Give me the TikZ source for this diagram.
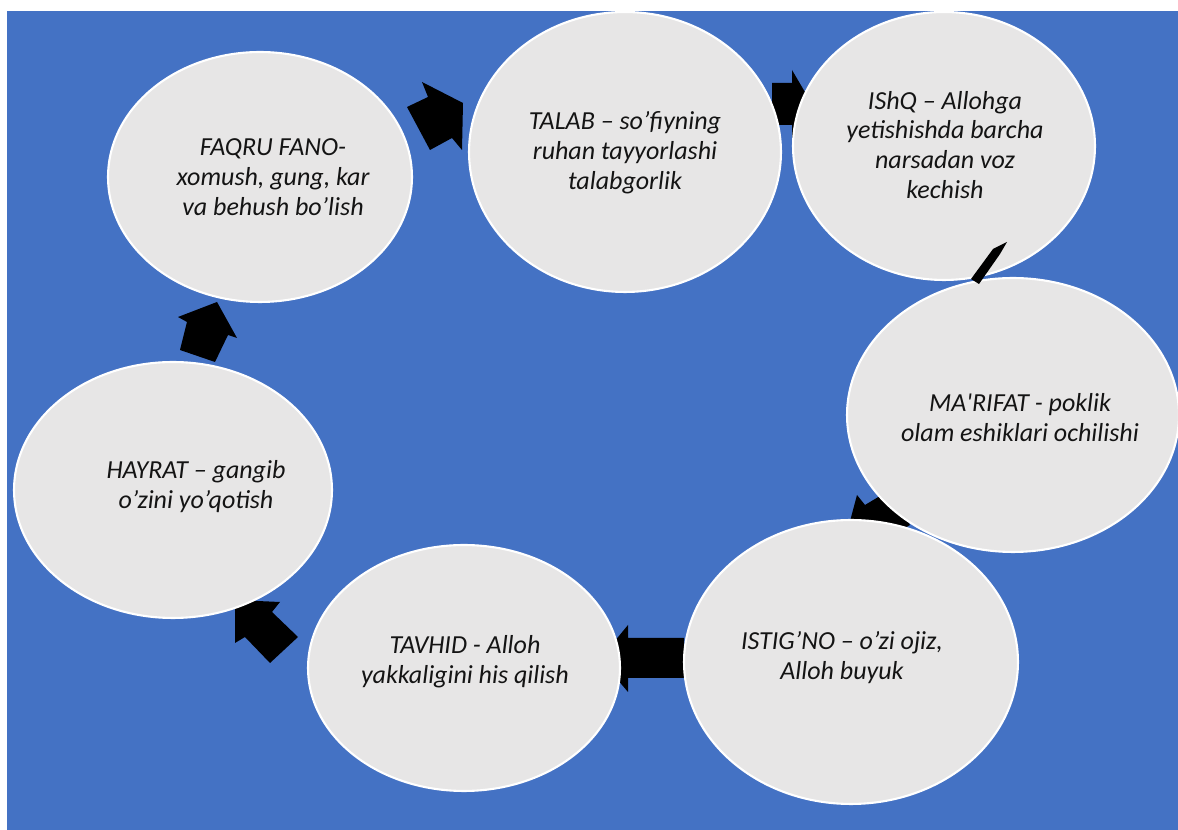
\documentclass[tikz,border=0pt]{standalone}
\usepackage{fontspec}
\setmainfont{Carlito}
\usetikzlibrary{shapes.geometric}
\definecolor{bgblue}{HTML}{4472C4}
\definecolor{bubgray}{HTML}{E7E6E6}
\definecolor{txtcol}{HTML}{141414}
\tikzset{
  bub/.style={ellipse, fill=bubgray, draw=white, line width=1.2pt, inner sep=0pt},
  txt/.style={align=center, text=txtcol, inner sep=0pt, font=\fontsize{14.8}{17}\selectfont\itshape},
  blockarrow/.style={fill=black, draw=none}
}
\begin{document}
\begin{tikzpicture}[x=0.02cm, y=-0.02cm]
\useasboundingbox (0,0) rectangle (1178,830);
\fill[white] (0,0) rectangle (1178,830);
\fill[bgblue] (7,11) rectangle (1178,830);

% block arrows behind the bubbles
\fill[blockarrow] (407,107) -- (428,97) -- (422,82) -- (463,103) -- (462,150) -- (452,138) -- (430,150) -- cycle;
\fill[blockarrow] (772,83) -- (792,83) -- (792,70) -- (812,104) -- (792,138) -- (792,125) -- (772,125) -- cycle;
\fill[blockarrow] (890,490) -- (865,505) -- (857,495) -- (845,540) -- (890,548) -- (885,540) -- (910,525) -- cycle;
\fill[blockarrow] (684,638) -- (628,638) -- (628,625) -- (600,659) -- (628,692) -- (628,678) -- (684,678) -- cycle;
\fill[blockarrow] (235,600) -- (280,602) -- (272,612) -- (298,637) -- (270,663) -- (245,637) -- (235,643) -- cycle;
\fill[blockarrow] (178,317) -- (217,302) -- (237,338) -- (228,335) -- (215,362) -- (180,350) -- (187,322) -- cycle;

% bubbles
\node[bub, minimum width=6.08cm, minimum height=5.0cm]  (faqru)   at (260,177) {};
\node[bub, minimum width=6.24cm, minimum height=5.6cm]  (talab)   at (625,152) {};
\node[bub, minimum width=6.04cm, minimum height=5.36cm] (ishq)    at (944,146) {};
\node[bub, minimum width=6.64cm, minimum height=5.48cm] (marifat) at (1013,415) {};
\node[bub, minimum width=6.68cm, minimum height=5.68cm] (istigno) at (851,662) {};
\node[bub, minimum width=6.24cm, minimum height=4.92cm] (tavhid)  at (464,668) {};
\node[bub, minimum width=6.36cm, minimum height=5.12cm] (hayrat)  at (173,490) {};

% thin arrow between IShQ and MA'RIFAT
\fill[blockarrow] (971,279) -- (979,284) -- (1000,254) -- (1007,242) -- (993,249) -- cycle;

% texts
\node[txt] (tfaqru)   at (273,177) {FAQRU FANO-\\xomush, gung, kar\\va behush bo’lish};
\node[txt] (ttalab)   at (625,153) {TALAB – so’fiyning\\ruhan tayyorlashi\\talabgorlik};
\node[txt] (tishq)    at (945,145) {IShQ – Allohga\\yetishishda barcha\\narsadan voz\\kechish};
\node[txt] (tmarifat) at (1020,418) {MA\textquotesingle RIFAT - poklik\\olam eshiklari ochilishi};
\node[txt] (tistigno) at (842,658) {ISTIG’NO – o’zi ojiz,\\Alloh buyuk};
\node[txt] (ttavhid)  at (465,662) {TAVHID - Alloh\\yakkaligini his qilish};
\node[txt] (thayrat)  at (196,487) {HAYRAT – gangib\\o’zini yo’qotish};
\end{tikzpicture}
\end{document}
